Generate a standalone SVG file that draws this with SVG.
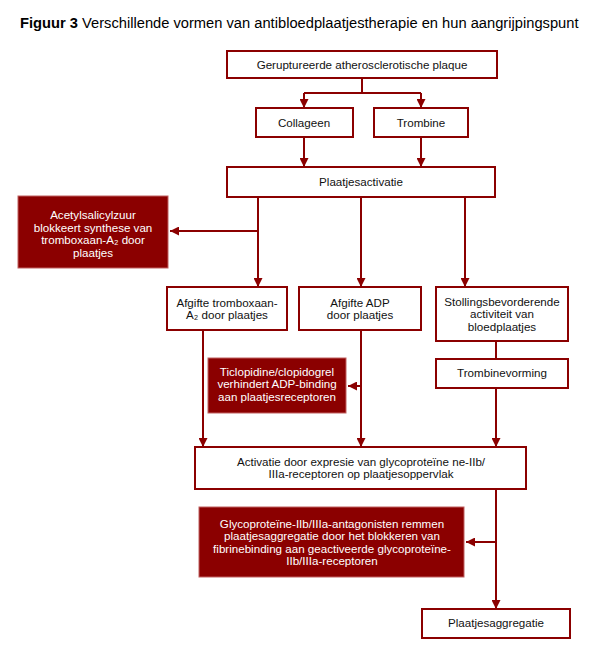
<svg xmlns="http://www.w3.org/2000/svg" width="600" height="660" viewBox="0 0 600 660">
<defs>
<marker id="ah" viewBox="0 0 10 10" refX="10" refY="5" markerWidth="9" markerHeight="9" markerUnits="userSpaceOnUse" orient="auto">
<path d="M0,0 L10,5 L0,10 z" fill="#8B0000"/>
</marker>
<style>
.box{fill:#fff;stroke:#8B0000;stroke-width:2}
.fbox{fill:#8B0000;stroke:#c06060;stroke-width:1}
.t{font-family:"Liberation Sans",Arial,sans-serif;font-size:11.6px;fill:#111;text-anchor:middle}
.w{font-family:"Liberation Sans",Arial,sans-serif;font-size:11.6px;fill:#fff;text-anchor:middle}
.c{fill:none;stroke:#8B0000;stroke-width:2}
.a{fill:none;stroke:#8B0000;stroke-width:2;marker-end:url(#ah)}
</style>
</defs>
<rect width="600" height="660" fill="#fff"/>
<text x="20" y="28" font-family="Liberation Sans, Arial, sans-serif" font-size="14.7" fill="#000"><tspan font-weight="bold">Figuur 3</tspan> Verschillende vormen van antibloedplaatjestherapie en hun aangrijpingspunt</text>

<g id="connectors">
<path class="c" d="M362,78 V93 M304,93 H421"/>
<path class="a" d="M304,93 V108"/>
<path class="a" d="M421,93 V108"/>
<path class="a" d="M304,137 V167"/>
<path class="a" d="M421,137 V167"/>
<path class="a" d="M258,197 V287"/>
<path class="a" d="M258,231 H170"/>
<path class="a" d="M361,197 V287"/>
<path class="a" d="M465,197 V287"/>
<path class="c" d="M496,341 V359"/>
<path class="a" d="M203,330 V447"/>
<path class="a" d="M361,330 V447"/>
<path class="a" d="M361,386 H348"/>
<path class="a" d="M496,388 V447"/>
<path class="a" d="M496,489 V609"/>
<path class="a" d="M496,542 H466"/>
</g>

<g id="plaque">
<rect class="box" x="227" y="51" width="270" height="27"/>
<text class="t" x="362" y="69">Geruptureerde atherosclerotische plaque</text>
</g>
<g id="collageen">
<rect class="box" x="256" y="108" width="97" height="29"/>
<text class="t" x="304" y="127">Collageen</text>
</g>
<g id="trombine">
<rect class="box" x="374" y="108" width="94" height="29"/>
<text class="t" x="421" y="127">Trombine</text>
</g>
<g id="activatie">
<rect class="box" x="227" y="167" width="268" height="30"/>
<text class="t" x="361" y="186">Plaatjesactivatie</text>
</g>
<g id="acetyl">
<rect class="fbox" x="18" y="196" width="150" height="72"/>
<text class="w" x="93" y="219">Acetylsalicylzuur</text>
<text class="w" x="93" y="231.5">blokkeert synthese van</text>
<text class="w" x="93" y="244">tromboxaan-A₂  door</text>
<text class="w" x="93" y="256.5">plaatjes</text>
</g>
<g id="tromboxaan">
<rect class="box" x="167" y="287" width="120" height="43"/>
<text class="t" x="227" y="306.5">Afgifte tromboxaan-</text>
<text class="t" x="227" y="319">A₂  door plaatjes</text>
</g>
<g id="adp">
<rect class="box" x="299" y="287" width="122" height="43"/>
<text class="t" x="360" y="306.5">Afgifte ADP</text>
<text class="t" x="360" y="319">door plaatjes</text>
</g>
<g id="stolling">
<rect class="box" x="436" y="287" width="132" height="54"/>
<text class="t" x="502" y="305.5">Stollingsbevorderende</text>
<text class="t" x="502" y="318">activiteit van</text>
<text class="t" x="502" y="330.5">bloedplaatjes</text>
</g>
<g id="trombinevorming">
<rect class="box" x="436" y="359" width="132" height="29"/>
<text class="t" x="502" y="377">Trombinevorming</text>
</g>
<g id="ticlopidine">
<rect class="fbox" x="208" y="358" width="138" height="55"/>
<text class="w" x="277" y="375.5">Ticlopidine/clopidogrel</text>
<text class="w" x="277" y="388">verhindert ADP-binding</text>
<text class="w" x="277" y="400.5">aan plaatjesreceptoren</text>
</g>
<g id="expressie">
<rect class="box" x="195" y="447" width="331" height="42"/>
<text class="t" x="361" y="465.5">Activatie door expresie van glycoproteïne ne-IIb/</text>
<text class="t" x="361" y="478">IIIa-receptoren op plaatjesoppervlak</text>
</g>
<g id="glyco">
<rect class="fbox" x="199" y="507" width="265" height="70"/>
<text class="w" x="332" y="527.5">Glycoproteïne-IIb/IIIa-antagonisten remmen</text>
<text class="w" x="332" y="540">plaatjesaggregatie door het blokkeren van</text>
<text class="w" x="332" y="552.5">fibrinebinding aan geactiveerde glycoproteïne-</text>
<text class="w" x="332" y="565">IIb/IIIa-receptoren</text>
</g>
<g id="aggregatie">
<rect class="box" x="422" y="609" width="148" height="29"/>
<text class="t" x="496" y="627">Plaatjesaggregatie</text>
</g>
</svg>
